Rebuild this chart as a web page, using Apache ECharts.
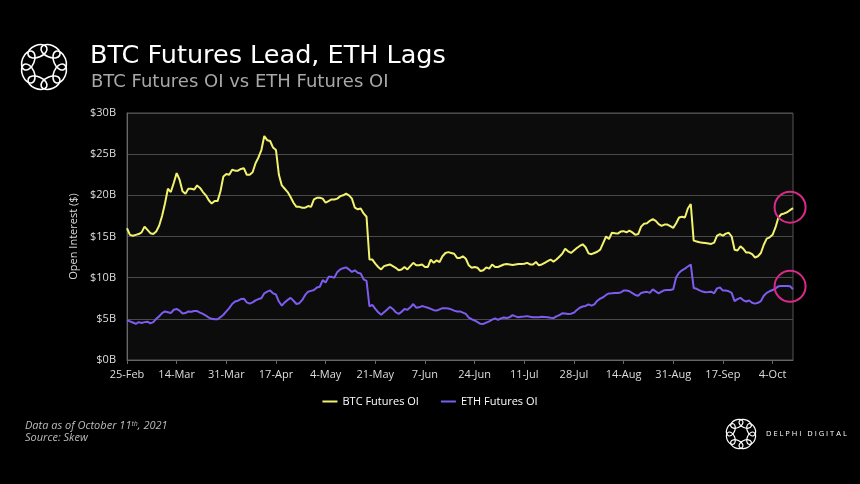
<!DOCTYPE html>
<html>
<head>
<meta charset="utf-8">
<script src="https://cdn.jsdelivr.net/npm/echarts@6/dist/echarts.min.js"></script>
<style>
html,body{margin:0;padding:0;background:#000;}
#c{width:860px;height:484px;}
</style>
</head>
<body>
<div id="c"></div>
<script>
// Daily categories, 25-Feb-2021 .. 11-Oct-2021
const startDate = [2021, 1, 25];
const dayCount = 229;
const monthNames = ['Jan','Feb','Mar','Apr','May','Jun','Jul','Aug','Sep','Oct','Nov','Dec'];
const categories = [];
for (let i = 0; i < dayCount; i++) {
  const d = new Date(Date.UTC(startDate[0], startDate[1], startDate[2] + i));
  categories.push(d.getUTCDate() + '-' + monthNames[d.getUTCMonth()]);
}

// BTC Futures OI ($B)
const btcOI = [
16.0,15.2,15.1,15.2,15.3,15.5,16.2,15.8,15.4,15.3,
15.6,16.3,17.5,19.0,20.8,20.4,21.5,22.7,21.9,20.5,
20.2,20.8,20.8,20.7,21.2,20.9,20.4,20.0,19.4,19.0,
19.3,19.3,20.5,22.3,22.6,22.5,23.1,23.0,23.0,23.2,
23.3,22.5,22.5,22.8,23.9,24.6,25.5,27.2,26.7,26.6,
25.8,25.5,22.5,21.2,20.8,20.4,19.8,19.1,18.6,18.6,
18.5,18.5,18.7,18.6,19.5,19.7,19.7,19.6,19.1,19.3,
19.5,19.5,19.6,19.9,20.0,20.2,20.0,19.6,18.5,18.3,
18.4,17.8,17.4,12.2,12.2,11.7,11.3,11.0,11.4,11.5,
11.6,11.4,11.2,10.9,11.0,11.3,11.0,11.4,11.8,11.5,
11.5,11.6,11.3,11.3,12.2,11.8,12.1,11.9,12.6,13.0,
13.1,13.0,12.9,12.4,12.4,12.6,12.3,11.5,11.2,11.3,
11.2,10.8,10.9,11.25,11.1,11.6,11.3,11.3,11.45,11.6,
11.65,11.6,11.55,11.6,11.65,11.65,11.7,11.8,11.6,11.6,
11.9,11.5,11.6,11.8,12.0,12.2,11.95,12.2,12.55,12.9,
13.5,13.2,13.0,13.3,13.6,13.85,14.05,13.7,12.95,12.85,
13.0,13.15,13.4,14.2,15.0,14.7,15.45,15.4,15.35,15.6,
15.65,15.5,15.7,15.5,15.2,15.3,16.2,16.55,16.6,16.9,
17.1,16.9,16.5,16.3,16.45,16.45,16.25,16.05,16.6,17.3,
17.4,17.3,18.4,18.95,14.5,14.4,14.3,14.25,14.2,14.15,
14.1,14.25,15.1,15.3,15.1,15.35,15.45,15.0,13.4,13.3,
13.8,13.5,13.05,13.05,12.85,12.45,12.6,13.0,14.0,14.75,
14.9,15.2,16.1,17.3,17.7,17.8,17.95,18.2,18.45
];

// ETH Futures OI ($B)
const ethOI = [
4.85,4.7,4.55,4.4,4.6,4.5,4.6,4.65,4.45,4.6,
5.0,5.3,5.7,5.9,5.8,5.7,6.1,6.2,6.0,5.65,
5.7,5.9,5.85,5.95,5.95,5.75,5.6,5.4,5.15,5.0,
4.95,4.95,5.2,5.5,5.9,6.3,6.8,7.1,7.2,7.4,
7.45,7.0,6.85,7.0,7.25,7.4,7.5,8.1,8.3,8.45,
8.1,7.95,7.1,6.6,7.0,7.3,7.55,7.2,6.8,6.9,
7.3,7.9,8.3,8.4,8.5,8.8,8.9,9.7,9.4,10.1,
10.1,10.0,10.7,11.0,11.15,11.25,11.0,10.7,10.9,10.6,
10.5,9.8,9.6,6.5,6.7,6.2,5.8,5.5,5.8,6.1,
6.45,6.2,5.8,5.6,5.85,6.2,6.1,6.4,6.8,6.35,
6.4,6.55,6.45,6.35,6.2,6.05,6.0,6.15,6.3,6.3,
6.25,6.15,6.0,5.9,5.9,5.75,5.6,5.15,4.95,4.8,
4.6,4.4,4.38,4.54,4.7,4.9,5.05,4.86,5.05,5.17,
5.1,5.2,5.45,5.3,5.2,5.25,5.28,5.33,5.25,5.19,
5.2,5.19,5.25,5.22,5.19,5.12,5.1,5.3,5.45,5.67,
5.65,5.59,5.62,5.75,6.08,6.35,6.5,6.56,6.75,6.6,
6.75,7.2,7.45,7.62,7.9,8.08,8.1,8.15,8.15,8.2,
8.43,8.43,8.35,8.12,7.9,7.8,8.15,8.22,8.28,8.15,
8.57,8.33,8.1,8.3,8.48,8.51,8.51,8.6,10.05,10.6,
10.9,11.1,11.35,11.6,8.75,8.65,8.45,8.31,8.22,8.25,
8.3,8.1,8.7,8.8,8.43,8.43,8.35,8.15,7.15,7.4,
7.55,7.25,7.1,7.22,6.95,6.85,6.95,7.15,7.8,8.15,
8.35,8.5,8.7,8.95,9.0,9.0,9.0,8.95,8.6
];

const yTicks = [0, 5, 10, 15, 20, 25, 30];
const seriesNames = ['BTC Futures OI', 'ETH Futures OI'];
const highlightIndex = 227;

const chart = echarts.init(document.getElementById('c'), null, {renderer: 'canvas'});

function logo(cx, cy, ringR, rx, ry, lw) {
  const els = [];
  for (let i = 0; i < 8; i++) {
    const a = i * Math.PI / 4 + Math.PI / 8;
    els.push({
      type: 'ellipse',
      shape: {cx: 0, cy: 0, rx: rx, ry: ry},
      x: cx + ringR * Math.cos(a),
      y: cy + ringR * Math.sin(a),
      rotation: -a + Math.PI / 2,
      style: {fill: 'none', stroke: '#ffffff', lineWidth: lw}
    });
  }
  return els;
}

const FONT = 'Open Sans';
const TFONT = 'DejaVu Sans';

chart.setOption({
  backgroundColor: '#000000',
  animation: false,
  textStyle: {fontFamily: FONT},
  grid: {
    left: 127, right: 67, top: 113, bottom: 124,
    show: true, backgroundColor: '#0c0c0c', borderColor: '#555555', borderWidth: 1
  },
  legend: {
    data: seriesNames,
    top: 391,
    left: 'center',
    icon: 'rect',
    itemWidth: 15,
    itemHeight: 2,
    itemGap: 22,
    textStyle: {color: '#ffffff', fontSize: 11, fontFamily: FONT}
  },
  xAxis: {
    type: 'category',
    data: categories,
    boundaryGap: false,
    axisLine: {lineStyle: {color: '#666666'}},
    axisTick: {interval: 16, length: 4, lineStyle: {color: '#666666'}},
    axisLabel: {interval: 16, color: '#dddddd', fontSize: 11, margin: 9, fontFamily: FONT},
    splitLine: {show: false}
  },
  yAxis: {
    type: 'value',
    min: yTicks[0],
    max: yTicks[yTicks.length - 1],
    interval: 5,
    name: 'Open Interest ($)',
    nameLocation: 'middle',
    nameGap: 43,
    nameTextStyle: {color: '#dddddd', fontSize: 11, fontFamily: FONT},
    axisLine: {show: true, lineStyle: {color: '#666666'}},
    axisTick: {show: false},
    axisLabel: {color: '#dddddd', fontSize: 11, margin: 11, fontFamily: FONT,
      formatter: v => '$' + v + 'B'},
    splitLine: {lineStyle: {color: '#4a4a4a', width: 1}}
  },
  series: [
    {
      name: seriesNames[0],
      type: 'line',
      data: btcOI,
      symbol: 'none',
      lineStyle: {color: '#f2f26e', width: 2},
      itemStyle: {color: '#f2f26e'},
      markPoint: {
        symbol: 'circle',
        symbolSize: 31,
        symbolOffset: [0, -3],
        silent: true,
        label: {show: false},
        itemStyle: {color: 'rgba(0,0,0,0)', borderColor: '#d92a88', borderWidth: 2},
        data: [{coord: [highlightIndex, btcOI[highlightIndex]]}]
      }
    },
    {
      name: seriesNames[1],
      type: 'line',
      data: ethOI,
      symbol: 'none',
      lineStyle: {color: '#7d5cf0', width: 2},
      itemStyle: {color: '#7d5cf0'},
      markPoint: {
        symbol: 'circle',
        symbolSize: 31,
        silent: true,
        label: {show: false},
        itemStyle: {color: 'rgba(0,0,0,0)', borderColor: '#d92a88', borderWidth: 2},
        data: [{coord: [highlightIndex, ethOI[highlightIndex]]}]
      }
    }
  ],
  graphic: [
    ...logo(44, 67, 17, 10, 6, 1.6),
    {type: 'text', left: 90, top: 43,
      style: {text: 'BTC Futures Lead, ETH Lags', fill: '#ffffff', fontSize: 25.5, fontFamily: TFONT}},
    {type: 'text', left: 91, top: 73,
      style: {text: 'BTC Futures OI vs ETH Futures OI', fill: '#a8a8a8', fontSize: 18, fontFamily: TFONT}},
    {type: 'text', left: 25, top: 420,
      style: {
        rich: {
          n: {fill: '#bbbbbb', fontSize: 11, fontStyle: 'italic', fontFamily: FONT},
          s: {fill: '#bbbbbb', fontSize: 7, fontStyle: 'italic', fontFamily: FONT, verticalAlign: 'top', padding: [0,0,4,0]}
        },
        text: '{n|Data as of October 11}{s|th}{n|, 2021}'
      }},
    {type: 'text', left: 25, top: 432,
      style: {text: 'Source: Skew', fill: '#bbbbbb', fontSize: 11, fontStyle: 'italic', fontFamily: FONT}},
    ...logo(741, 434, 11, 6.5, 4, 1.2),
    {type: 'text', left: 766, top: 430,
      style: {text: 'D E L P H I   D I G I T A L', fill: '#ffffff', fontSize: 7.5, fontFamily: FONT}}
  ]
});
</script>
</body>
</html>
